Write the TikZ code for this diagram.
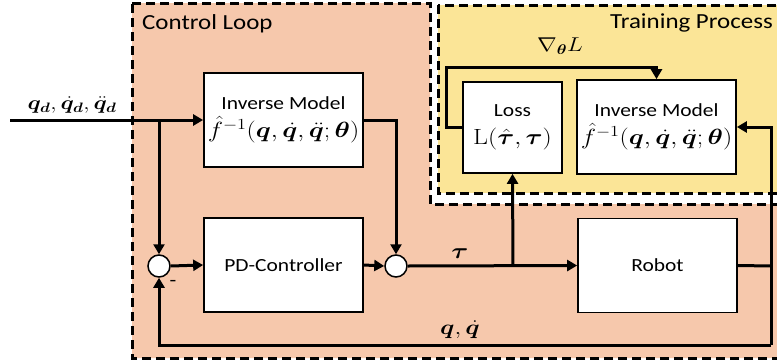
\RequirePackage{fix-cm}
\documentclass[tikz,border=0pt]{standalone}
\usepackage{amsmath,bm,graphicx}
\usepackage[no-math]{fontspec}
\setmainfont{Carlito}[FakeStretch=1.16]
\usetikzlibrary{arrows.meta}
\usepackage{xcolor}
\definecolor{loopfill}{HTML}{F6C8AC}
\definecolor{trainfill}{HTML}{FBE597}
% wide maths, as the formulas of the picture are
\newcommand{\widemath}[2][22]{{\fontsize{#1}{28}\selectfont\scalebox{1.18}[1]{$#2$}}}

\begin{document}
\begin{tikzpicture}[x=1pt, y=-1pt,
		block/.style={draw, fill=white, line width=1.7pt, minimum width=159pt, minimum height=94pt,
				align=center, inner sep=0pt, font=\fontsize{18.5}{28}\selectfont},
		sumnode/.style={circle, draw, fill=white, line width=1.5pt, minimum size=22pt, inner sep=0pt},
		wire/.style={line width=3pt},
		flow/.style={wire, -{Triangle[length=10pt,width=11pt]}},
		region/.style={dash pattern=on 9pt off 5pt, line width=3pt},
		lbl/.style={inner sep=0pt},
		title/.style={inner sep=0pt, font=\fontsize{21.5}{24}\selectfont}]
		\useasboundingbox (0,0) rectangle (777,362);
		\clip (0,0) rectangle (777,362);

		% control loop area (it steps round the training box)
		\fill[loopfill] (132,3) -- (430,3) -- (430,204) -- (790,204) -- (790,358) -- (132,358) -- cycle;
		\draw[region] (132,3) -- (430,3) -- (430,204) -- (790,204) -- (790,358) -- (132,358) -- cycle;

		% training area
		\fill[trainfill] (438,5) rectangle (790,193);
		\draw[region] (438,5) rectangle (790,193);

		\node[title, anchor=base west] (looptitle) at (142,29) {Control Loop};
		\node[title, anchor=base east] (traintitle) at (773,28) {Training Process};

		% blocks
		\node[block] (invctl) at (283.5,120) {Inverse Model\\ \widemath{\hat{f}^{-1}(\bm{q},\dot{\bm{q}},\ddot{\bm{q}};\bm{\theta})}};
		\node[block] (pd) at (283.5,265) {PD-Controller};
		\node[block] (robot) at (657.5,265.5) {Robot};
		\node[block, minimum width=99pt, minimum height=91pt] (loss) at (512.5,127.5) {Loss\\ \widemath{\mathrm{L}(\hat{\bm{\tau}},\bm{\tau})}};
		\node[block] (invtrain) at (656.5,127) {Inverse Model\\ \widemath{\hat{f}^{-1}(\bm{q},\dot{\bm{q}},\ddot{\bm{q}};\bm{\theta})}};
		\node[sumnode] (sumfb) at (159,266) {};
		\node[sumnode] (sumff) at (396,266) {};

		% free ends and corners of the wires
		\coordinate (qin) at (10,120);
		\coordinate (split) at (159,120);
		\coordinate (tap) at (513,266);
		\coordinate (outcorner) at (771,266);
		\coordinate (fbcorner) at (771,345);
		\coordinate (gradup) at (446,67);

		% wires
		\draw[flow] (qin) -- (invctl.west);
		\draw[flow] (split) -- (sumfb.north);
		\draw[flow] (sumfb.east) -- (pd.west);
		\draw[flow] (pd.east) -- (sumff.west);
		\draw[flow] (invctl.east) -| (sumff.north);
		\draw[flow] (sumff.east) -- (robot.west);
		\draw[flow] (tap) -- (loss.south);
		\draw[wire] (robot.east) -- (outcorner);
		\draw[flow] (fbcorner) -- (fbcorner |- invtrain.east) -- (invtrain.east);
		\draw[flow] (fbcorner) -| (sumfb.south);
		\draw[flow] (loss.west) -| (gradup) -| (invtrain.north);

		% labels
		\node[lbl] (qdlabel) at (72,105) {\widemath[19.5]{\bm{q}_{\bm{d}},\dot{\bm{q}}_{\bm{d}},\ddot{\bm{q}}_{\bm{d}}}};
		\node[lbl] (gradlabel) at (560,46) {\widemath[20]{\nabla_{\bm{\theta}} L}};
		\node[lbl] (taulabel) at (460,254) {\widemath[22]{\bm{\tau}}};
		\node[lbl] (fblabel) at (460,330) {\widemath[21]{\bm{q},\dot{\bm{q}}}};
		\node[lbl, font=\fontsize{19}{22}\selectfont] (minus) at (173,283) {-};
	\end{tikzpicture}
\end{document}
